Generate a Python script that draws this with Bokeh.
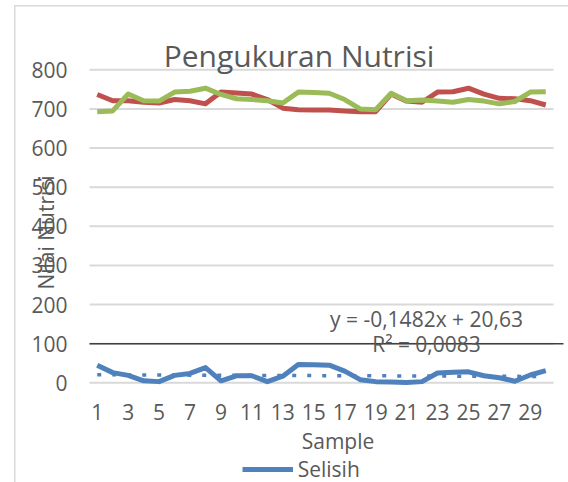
from bokeh.plotting import figure
from bokeh.models import Range1d, FixedTicker, Label, Legend, LegendItem
from bokeh.embed import file_html
from bokeh.resources import INLINE

# ---- data ----
samples = list(range(1, 31))
nutrisi_a = [737, 721, 721, 717, 715, 724, 721, 713, 743, 741,
             738, 724, 702, 698, 697, 697, 695, 693, 693, 738,
             720, 717, 743, 744, 753, 738, 727, 726, 721, 710]
nutrisi_b = [693, 695, 738, 721, 720, 743, 745, 753, 737, 726,
             724, 721, 715, 743, 742, 740, 724, 700, 698, 740,
             721, 723, 720, 717, 724, 720, 713, 719, 743, 744]
selisih = [45, 26, 19, 5, 3, 19, 24, 39, 5, 18,
           18, 3, 17, 47, 46, 45, 30, 8, 3, 2,
           1, 3, 25, 27, 28, 18, 13, 4, 20, 31]
trend_slope = -0.1482
trend_intercept = 20.63
x_ticks = list(range(1, 30, 2))
y_ticks = list(range(0, 801, 100))
rule_value = 100

title_text = "Pengukuran Nutrisi"
x_title = "Sample"
y_title = "Nilai Nutrisi"
eq_text = "y = -0,1482x + 20,63"
r2_text = "R² = 0,0083"

FONT = "Open Sans"
TXT = "#595959"

# ---- layout (pixels) ----
W, H = 568, 482
PL, PR, PT, PB = 89, 553, 69.3, 382.3          # plot area edges on the canvas
RULE_END = 563                                  # dark rule runs a bit past the plot area
x_lo, x_hi = 0.5, 30.5
y_lo, y_hi = 0, 800
xs = (PR - PL) / (x_hi - x_lo)
ys = (PB - PT) / (y_hi - y_lo)
x_range = Range1d(x_lo - PL / xs, x_hi + (W - PR) / xs)
y_range = Range1d(y_lo - (H - PB) / ys, y_hi + PT / ys)

p = figure(width=W, height=H, x_range=x_range, y_range=y_range,
           output_backend="svg", toolbar_location=None,
           min_border=0, min_border_left=0, min_border_right=0,
           min_border_top=0, min_border_bottom=0)
p.title.visible = False
p.outline_line_color = None
p.background_fill_color = None
p.border_fill_color = None
p.styles = {
    "background-color": "white",
    "background-image": "linear-gradient(#d9d9d9, #d9d9d9), linear-gradient(#d9d9d9, #d9d9d9)",
    "background-size": "1.5px 477px, 554px 1.5px",
    "background-position": "14px 5px, 14px 5px",
    "background-repeat": "no-repeat",
}

for ax in (p.xaxis, p.yaxis):
    ax.axis_line_color = None
    ax.major_tick_line_color = None
    ax.minor_tick_line_color = None
    ax.major_tick_in = 0
    ax.major_tick_out = 0
    ax.minor_tick_in = 0
    ax.minor_tick_out = 0
    ax.major_label_text_font = FONT
    ax.major_label_text_font_size = "21px"
    ax.major_label_text_color = TXT

p.xaxis.ticker = FixedTicker(ticks=x_ticks)
p.yaxis.ticker = FixedTicker(ticks=y_ticks)
p.xaxis.fixed_location = y_lo
p.yaxis.fixed_location = x_lo
p.xaxis.major_label_standoff = 21
p.yaxis.major_label_standoff = 22
p.grid.visible = False

# horizontal gridlines across the plot area only
n = len(y_ticks)
p.segment(x0=[x_lo] * n, x1=[x_hi] * n, y0=y_ticks, y1=y_ticks,
          line_color="#d9d9d9", line_width=2)

p.line(samples, nutrisi_a, line_color="#c0504d", line_width=5, line_join="round")
p.line(samples, nutrisi_b, line_color="#9bbb59", line_width=5, line_join="round")
r_sel = p.line(samples, selisih, line_color="#4f81bd", line_width=5, line_join="round")
trend = [trend_intercept + trend_slope * s for s in samples]
p.line(samples, trend, line_color="#4f81bd", line_width=3.5, line_dash="4 11")

# dark rule
p.segment(x0=[x_lo], x1=[x_hi + (RULE_END - PR) / xs], y0=[rule_value], y1=[rule_value],
          line_color="#404040", line_width=1.5)

def lab(x, y, text, size="21px", angle=0):
    # x, y given as canvas pixels from the top-left
    return Label(x=x, y=H - y, x_units="screen", y_units="screen", text=text,
                 text_align="center", text_baseline="alphabetic",
                 angle=angle, angle_units="deg",
                 text_font=FONT, text_font_size=size, text_color=TXT)

p.add_layout(lab(298.5, 55, title_text, size="30px"))
p.add_layout(lab(426, 318, eq_text))
p.add_layout(lab(426, 343, r2_text))
p.add_layout(lab(337.5, 440, x_title))
p.add_layout(lab(45, 232, y_title, angle=90))

legend = Legend(items=[LegendItem(label="Selisih", renderers=[r_sel])],
                location=(241.7, H - 483), orientation="horizontal",
                padding=0, margin=0, border_line_color=None, background_fill_alpha=0,
                glyph_width=51, glyph_height=10, label_standoff=5,
                label_text_font=FONT, label_text_font_size="21px", label_text_color=TXT)
p.add_layout(legend)

open("out.html", "w").write(file_html(p, INLINE))
